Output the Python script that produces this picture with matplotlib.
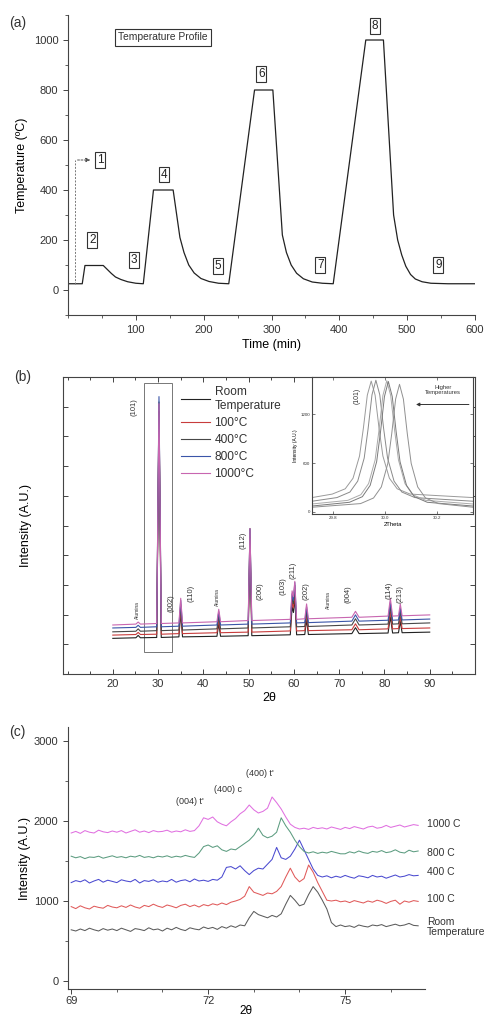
import numpy as np
import matplotlib
matplotlib.use("Agg")
import matplotlib.pyplot as plt
from matplotlib.patches import Rectangle
from matplotlib.ticker import MultipleLocator

plt.rcParams['font.family'] = ['Liberation Sans', 'DejaVu Sans']
plt.rcParams['text.color'] = '#333333'
plt.rcParams['axes.edgecolor'] = '#444444'
plt.rcParams['xtick.color'] = '#444444'
plt.rcParams['ytick.color'] = '#444444'
plt.rcParams['xtick.labelcolor'] = '#333333'
plt.rcParams['ytick.labelcolor'] = '#333333'

# ---------------- (a) heating programme ----------------
time_min = [0, 21, 25, 52, 58, 64, 70, 78, 88, 100,
            111, 126, 155, 165, 171, 178, 186, 196, 208, 222,
            237, 275, 302, 316, 322, 329, 337, 347, 360, 375,
            391, 439, 465, 480, 486, 492, 498, 505, 512, 522,
            535, 560, 600]
temp_c = [25, 25, 98, 98, 82, 66, 52, 42, 33, 27,
          25, 400, 400, 210, 150, 100, 68, 46, 34, 27,
          25, 800, 800, 220, 150, 100, 67, 45, 32, 27,
          25, 1000, 1000, 300, 200, 140, 95, 62, 44, 33,
          27, 25, 25]
stage_names = ["1", "2", "3", "4", "5", "6", "7", "8", "9"]

# ---------------- (b) full XRD patterns ----------------
series_names = ["Room\nTemperature", "100°C", "400°C", "800°C", "1000°C"]
two_theta_b = [20.0, 25.1, 25.6, 26.1, 29.7, 30.2, 30.7, 34.6, 35.0, 35.4,
               43.0, 43.4, 43.8, 49.9, 50.3, 50.7, 59.2, 59.6, 59.9, 60.2,
               60.6, 62.4, 62.8, 63.2, 72.8, 73.6, 74.4, 80.8, 81.3, 81.8,
               83.1, 83.5, 83.9, 90.0]
xrd_rt = [1.20, 1.22, 1.30, 1.22, 1.23, 8.55, 1.23, 1.25, 2.05, 1.25,
          1.27, 1.69, 1.27, 1.29, 4.39, 1.29, 1.32, 2.27, 2.07, 2.57,
          1.32, 1.33, 1.83, 1.33, 1.36, 1.56, 1.36, 1.38, 1.93, 1.38,
          1.39, 1.77, 1.39, 1.41]
xrd_100 = [1.31, 1.33, 1.40, 1.33, 1.34, 8.84, 1.34, 1.36, 2.18, 1.36,
           1.39, 1.83, 1.39, 1.41, 4.61, 1.41, 1.45, 2.43, 2.23, 2.75,
           1.45, 1.46, 1.98, 1.46, 1.49, 1.69, 1.49, 1.52, 2.10, 1.52,
           1.53, 1.93, 1.53, 1.55]
xrd_400 = [1.42, 1.44, 1.52, 1.44, 1.46, 9.16, 1.46, 1.48, 2.33, 1.48,
           1.52, 1.97, 1.52, 1.55, 4.90, 1.55, 1.59, 2.59, 2.37, 2.99,
           1.59, 1.60, 2.13, 1.60, 1.65, 1.86, 1.65, 1.68, 2.28, 1.68,
           1.69, 2.10, 1.69, 1.72]
xrd_800 = [1.55, 1.57, 1.64, 1.57, 1.59, 9.34, 1.59, 1.61, 2.48, 1.61,
           1.65, 2.10, 1.65, 1.68, 4.88, 1.68, 1.72, 2.70, 2.48, 3.08,
           1.72, 1.73, 2.26, 1.73, 1.78, 1.99, 1.78, 1.81, 2.41, 1.81,
           1.82, 2.22, 1.82, 1.85]
xrd_1000 = [1.65, 1.68, 1.75, 1.68, 1.70, 9.10, 1.70, 1.72, 2.55, 1.72,
            1.76, 2.18, 1.76, 1.80, 4.90, 1.80, 1.84, 2.80, 2.60, 3.12,
            1.84, 1.86, 2.36, 1.86, 1.91, 2.11, 1.91, 1.95, 2.55, 1.95,
            1.96, 2.36, 1.96, 1.99]
peak_names = ["Alumina", "(101)", "(002)", "(110)", "Alumina", "(112)", "(200)",
              "(103)", "(211)", "(202)", "Alumina", "(004)", "(114)", "(213)"]

# (101) reflection close-up
zoom_x = [
    [29.72, 29.798, 29.848, 29.878, 29.903, 29.918, 29.933, 29.948, 29.963, 29.978, 29.993, 30.018, 30.048, 30.098, 30.34],
    [29.72, 29.816, 29.866, 29.896, 29.921, 29.936, 29.951, 29.966, 29.981, 29.996, 30.011, 30.036, 30.066, 30.116, 30.34],
    [29.72, 29.858, 29.908, 29.938, 29.963, 29.978, 29.993, 30.008, 30.023, 30.038, 30.053, 30.078, 30.108, 30.158, 30.34],
    [29.72, 29.864, 29.914, 29.944, 29.969, 29.984, 29.999, 30.014, 30.029, 30.044, 30.059, 30.084, 30.114, 30.164, 30.34],
    [29.72, 29.907, 29.957, 29.987, 30.012, 30.027, 30.042, 30.057, 30.072, 30.087, 30.102, 30.127, 30.157, 30.207, 30.34],
]
zoom_y = [
    [177, 220, 285, 415, 688, 1034, 1437, 1610, 1437, 1034, 688, 415, 285, 220, 177],
    [132, 177, 245, 379, 663, 1022, 1441, 1620, 1441, 1022, 663, 379, 245, 177, 132],
    [98, 143, 212, 349, 639, 1005, 1432, 1615, 1432, 1005, 639, 349, 212, 143, 98],
    [73, 119, 188, 327, 619, 989, 1420, 1605, 1420, 989, 619, 327, 188, 119, 73],
    [58, 103, 172, 308, 597, 962, 1388, 1570, 1388, 962, 597, 308, 172, 103, 58],
]

# ---------------- (c) 69-76.6 degree region ----------------
two_theta_c = [69.0, 69.1, 69.2, 69.3, 69.4, 69.5, 69.6, 69.7, 69.8, 69.9,
               70.0, 70.1, 70.2, 70.3, 70.4, 70.5, 70.6, 70.7, 70.8, 70.9,
               71.0, 71.1, 71.2, 71.3, 71.4, 71.5, 71.6, 71.7, 71.8, 71.9,
               72.0, 72.1, 72.2, 72.3, 72.4, 72.5, 72.6, 72.7, 72.8, 72.9,
               73.0, 73.1, 73.2, 73.3, 73.4, 73.5, 73.6, 73.7, 73.8, 73.9,
               74.0, 74.1, 74.2, 74.3, 74.4, 74.5, 74.6, 74.7, 74.8, 74.9,
               75.0, 75.1, 75.2, 75.3, 75.4, 75.5, 75.6, 75.7, 75.8, 75.9,
               76.0, 76.1, 76.2, 76.3, 76.4, 76.5, 76.6]
int_rt = [640, 625, 650, 630, 660, 640, 625, 655, 635, 650,
          630, 660, 640, 620, 655, 645, 630, 665, 640, 650,
          625, 660, 640, 670, 645, 630, 665, 650, 640, 675,
          655, 670, 645, 680, 660, 690, 670, 700, 690, 790,
          870, 830, 810, 790, 820, 800, 840, 960, 1070, 1010,
          940, 960, 1080, 1180, 1110, 1010, 900, 730, 680, 700,
          680, 690, 670, 700, 685, 675, 700, 690, 705, 680,
          695, 710, 690, 700, 720, 695, 690]
int_100 = [930, 905, 940, 915, 900, 935, 920, 910, 945, 925,
           915, 940, 920, 950, 925, 910, 945, 930, 960, 935,
           920, 950, 935, 915, 945, 960, 930, 950, 925, 955,
           940, 965, 950, 975, 955, 985, 1000, 1020, 1060, 1180,
           1110, 1090, 1070, 1100, 1090, 1120, 1180, 1300, 1410, 1300,
           1240, 1280, 1450, 1360, 1230, 1120, 1010, 1000, 1010, 990,
           1000, 980, 1005, 990, 975, 1000, 985, 1010, 995, 970,
           995, 1010, 960, 1000, 985, 1005, 995]
int_400 = [1230, 1255, 1240, 1265, 1225, 1250, 1270, 1235, 1260, 1245,
           1230, 1265, 1250, 1240, 1270, 1225, 1255, 1245, 1265, 1235,
           1250, 1240, 1270, 1235, 1255, 1265, 1240, 1275, 1250, 1260,
           1245, 1270, 1260, 1300, 1420, 1430, 1400, 1440, 1380, 1330,
           1380, 1410, 1400, 1460, 1520, 1670, 1540, 1520, 1560, 1650,
           1760, 1640, 1520, 1400, 1320, 1300, 1315, 1290, 1310, 1295,
           1320, 1300, 1285, 1315, 1305, 1290, 1320, 1300, 1310, 1285,
           1305, 1325, 1300, 1310, 1330, 1315, 1320]
int_800 = [1560, 1540, 1555, 1530, 1550, 1545, 1560, 1535, 1550, 1565,
           1545, 1555, 1540, 1560, 1550, 1570, 1545, 1555, 1540, 1560,
           1550, 1565, 1545, 1560, 1550, 1570, 1555, 1545, 1600, 1680,
           1700, 1670, 1690, 1640, 1620, 1650, 1640, 1680, 1720, 1760,
           1820, 1910, 1820, 1790, 1810, 1860, 2040, 1940, 1860, 1760,
           1680, 1620, 1600, 1615, 1595, 1610, 1600, 1620, 1605, 1590,
           1590, 1615, 1600, 1625, 1605, 1595, 1620, 1610, 1630, 1605,
           1615, 1640, 1610, 1600, 1635, 1615, 1625]
int_1000 = [1850, 1870, 1845, 1880, 1860, 1850, 1885, 1865, 1855, 1875,
            1860, 1880, 1850, 1870, 1890, 1860, 1875, 1855, 1880, 1865,
            1870, 1885, 1860, 1875, 1865, 1890, 1870, 1880, 1940, 2040,
            2020, 2050, 1990, 1960, 1940, 1990, 2030, 2090, 2130, 2200,
            2140, 2100, 2120, 2160, 2300, 2230, 2150, 2050, 1960, 1920,
            1900, 1910, 1895, 1920, 1905, 1915, 1900, 1925, 1910, 1895,
            1920, 1905, 1930, 1915, 1900, 1925, 1935, 1910, 1920, 1945,
            1920, 1935, 1950, 1925, 1940, 1955, 1945]
side_names = ["Room\nTemperature", "100 C", "400 C", "800 C", "1000 C"]
phase_names = ["(004) t'", "(400) c", "(400) t'"]

W, H = 492, 1019
fig = plt.figure(figsize=(W / 100, H / 100), dpi=100)


def box(left, top, right, bottom):
    return [left / W, 1 - bottom / H, (right - left) / W, (bottom - top) / H]


# ======== panel (a) ========
ax_a = fig.add_axes(box(68, 15, 475, 315))
ax_a.plot(time_min, temp_c, color='#222222', lw=0.9)
ax_a.set_xlim(0, 600)
ax_a.set_ylim(-100, 1100)
ax_a.set_xticks([100, 200, 300, 400, 500, 600])
ax_a.set_yticks([0, 200, 400, 600, 800, 1000])
ax_a.xaxis.set_minor_locator(MultipleLocator(50))
ax_a.yaxis.set_minor_locator(MultipleLocator(100))
ax_a.tick_params(which='major', length=3.5, width=0.7, labelsize=8)
ax_a.tick_params(which='minor', length=2, width=0.6)
for s in ('top', 'right'):
    ax_a.spines[s].set_visible(False)
ax_a.set_xlabel('Time (min)', fontsize=9, labelpad=3)
ax_a.set_ylabel('Temperature (ºC)', fontsize=9, labelpad=4)

stage_pos = [(47, 519), (36, 200), (97, 120), (142, 462), (221, 96),
             (285, 863), (372, 100), (452, 1057), (546, 100)]
for name, (tx, ty) in zip(stage_names, stage_pos):
    ax_a.text(tx, ty, name, ha='center', va='center', fontsize=8.5, color='#222222',
              bbox=dict(boxstyle='square,pad=0.15', fc='white', ec='#333333', lw=0.8))
ax_a.plot([10, 10], [25, 520], ls=(0, (2, 1.5)), color='#777777', lw=0.7)
ax_a.annotate('', xy=(37, 520), xytext=(10, 520),
              arrowprops=dict(arrowstyle='-|>', linestyle=(0, (2, 1.5)), color='#555555',
                              lw=0.7, mutation_scale=6))
ax_a.text(140, 1010, 'Temperature Profile', ha='center', va='center', fontsize=7.4,
          bbox=dict(boxstyle='square,pad=0.35', fc='white', ec='#333333', lw=0.8))

# ======== panel (b) ========
ax_b = fig.add_axes(box(63, 377, 475, 674))
colors_b = ['#222222', '#c83c3c', '#474747', '#3a55a8', '#c866b0']
traces_b = [xrd_rt, xrd_100, xrd_400, xrd_800, xrd_1000]
handles = []
for y, c, name in zip(traces_b, colors_b, series_names):
    h, = ax_b.plot(two_theta_b, y, color=c, lw=0.8, label=name)
    handles.append(h)
ax_b.set_xlim(9, 100)
ax_b.set_ylim(0, 10)
ax_b.set_xticks([20, 30, 40, 50, 60, 70, 80, 90])
ax_b.xaxis.set_minor_locator(MultipleLocator(5))
ax_b.yaxis.set_major_locator(MultipleLocator(1))
ax_b.tick_params(which='both', direction='in', top=True, right=True, labelleft=False,
                 width=0.7, labelsize=8)
ax_b.tick_params(which='major', length=3.5)
ax_b.tick_params(which='minor', length=2)
ax_b.set_xlabel('2θ', fontsize=9, labelpad=2)
ax_b.set_ylabel('Intensity (A.U.)', fontsize=9, labelpad=22)
ax_b.add_patch(Rectangle((26.8, 0.74), 6.2, 9.06, fill=False, ec='#777777', lw=0.7))

label_pos = [(25.4, 2.15), (24.6, 9.0), (32.8, 2.4), (37.2, 2.7), (43.1, 2.6),
             (48.8, 4.5), (52.6, 2.8), (57.6, 2.95), (59.8, 3.5), (62.7, 2.8),
             (67.6, 2.5), (72.0, 2.7), (81.0, 2.8), (83.4, 2.7)]
for name, (px, py) in zip(peak_names, label_pos):
    ax_b.text(px, py, name, rotation=90, ha='center', va='center',
              fontsize=3.5 if name == 'Alumina' else 5.5)

ax_b.legend(handles=handles, loc='upper left', bbox_to_anchor=(0.275, 0.985),
            frameon=False, fontsize=8.6, handlelength=2.4, labelspacing=0.42,
            handletextpad=0.4, borderaxespad=0)

ax_in = fig.add_axes(box(312, 377, 473, 514))
zoom_grays = ['#9a9a9a', '#8a8a8a', '#aaaaaa', '#7a7a7a', '#909090']
for xs, ys, c in zip(zoom_x, zoom_y, zoom_grays):
    ax_in.plot(xs, ys, color=c, lw=0.7)
ax_in.set_xlim(29.72, 30.34)
ax_in.set_ylim(-25, 1660)
ax_in.set_xticks([29.8, 30.0, 30.2])
ax_in.set_yticks([0, 600, 1200])
ax_in.tick_params(which='both', direction='in', top=True, right=True, length=2,
                  width=0.5, labelsize=3.2, pad=1.5)
ax_in.set_xlabel('2Theta', fontsize=4.2, labelpad=1.5)
ax_in.set_ylabel('Intensity (A.U.)', fontsize=3.5, labelpad=1.5)
ax_in.text(29.893, 1430, '(101)', rotation=90, ha='center', va='center', fontsize=5)
ax_in.text(30.225, 1500, 'Higher\nTemperatures', ha='center', va='center',
           fontsize=4.2, linespacing=0.9)
ax_in.annotate('', xy=(30.11, 1322), xytext=(30.335, 1322),
               arrowprops=dict(arrowstyle='-|>', color='#333333', lw=0.7, mutation_scale=5))

# ======== panel (c) ========
ax_c = fig.add_axes(box(68, 727, 425, 989))
colors_c = ['#5c5c5c', '#e05a5a', '#4a4ad0', '#5c9c80', '#e070e0']
traces_c = [int_rt, int_100, int_400, int_800, int_1000]
for y, c in zip(traces_c, colors_c):
    ax_c.plot(two_theta_c, y, color=c, lw=0.75)
ax_c.set_xlim(68.93, 76.75)
ax_c.set_ylim(-100, 3175)
ax_c.set_xticks([69, 72, 75])
ax_c.set_yticks([0, 1000, 2000, 3000])
ax_c.xaxis.set_minor_locator(MultipleLocator(1))
ax_c.yaxis.set_minor_locator(MultipleLocator(500))
ax_c.tick_params(which='major', length=3.5, width=0.7, labelsize=8)
ax_c.tick_params(axis='x', which='major', pad=1.5)
ax_c.tick_params(which='minor', length=2, width=0.6)
for s in ('top', 'right'):
    ax_c.spines[s].set_visible(False)
ax_c.set_xlabel('2θ', fontsize=8.5, labelpad=-1)
ax_c.set_ylabel('Intensity (A.U.)', fontsize=9, labelpad=2)

side_y = [675, 1025, 1360, 1600, 1960]
for name, sy in zip(side_names, side_y):
    ax_c.text(76.79, sy, name, ha='left', va='center', fontsize=7.5,
              linespacing=0.95, clip_on=False)
phase_pos = [(71.6, 2240), (72.43, 2390), (73.13, 2600)]
for name, (px, py) in zip(phase_names, phase_pos):
    ax_c.text(px, py, name, ha='center', va='center', fontsize=6.5)

fig.text(18 / W, 1 - 23 / H, '(a)', fontsize=10, ha='center', va='center')
fig.text(23 / W, 1 - 377 / H, '(b)', fontsize=10, ha='center', va='center')
fig.text(17 / W, 1 - 732 / H, '(c)', fontsize=10, ha='center', va='center')

fig.savefig('out.png', dpi=100)
